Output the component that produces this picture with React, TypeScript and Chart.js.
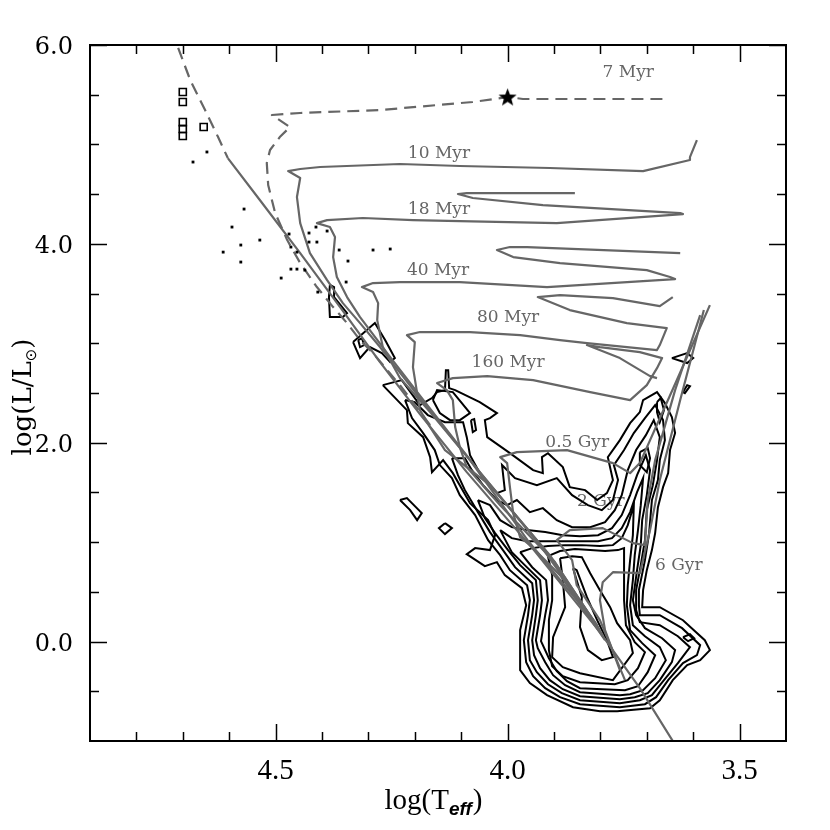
import React, { useEffect, useRef } from "react";
import { Chart, registerables } from "chart.js";
Chart.register(...registerables);

type P = [number, number];

// ---- axes ----
const X_MIN = 3.4, X_MAX = 4.9, Y_MIN = -1, Y_MAX = 6;
const xMajorTicks = [4.5, 4.0, 3.5];
const xMinorTicks = [4.8, 4.7, 4.6, 4.4, 4.3, 4.2, 4.1, 3.9, 3.8, 3.7, 3.6];
const yMajorTicks = [6.0, 4.0, 2.0, 0.0];
const yMinorTicks = [5.5, 5.0, 4.5, 3.5, 3.0, 2.5, 1.5, 1.0, 0.5, -0.5];

// ---- isochrone labels ----
const isoLabelText = ["7 Myr", "10 Myr", "18 Myr", "40 Myr", "80 Myr", "160 Myr", "0.5 Gyr", "2 Gyr", "6 Gyr"];
const isoLabelT = [3.740, 4.148, 4.148, 4.150, 3.999, 3.999, 3.850, 3.799, 3.631];
const isoLabelL = [5.718, 4.913, 4.340, 3.736, 3.254, 2.801, 2.006, 1.412, 0.769];

// ---- gray tracks / isochrones (logT, logL) ----
const upperDashed: P[] = [[4.710, 5.970], [4.684, 5.648], [4.652, 5.346], [4.624, 5.074], [4.603, 4.863]];
const zams: P[] = [[4.603, 4.863], [4.534, 4.441], [4.447, 3.907], [4.361, 3.364], [4.275, 2.811], [4.189, 2.288], [4.088, 1.704], [3.945, 0.930], [3.801, 0.095], [3.715, -0.469], [3.640, -1.03]];
const iso7Myr: P[] = [[4.167, 2.177], [4.232, 2.579], [4.292, 2.911], [4.318, 3.032], [4.346, 3.203], [4.376, 3.364], [4.411, 3.566], [4.447, 3.807], [4.475, 4.038], [4.501, 4.310], [4.516, 4.592], [4.519, 4.813], [4.512, 4.944], [4.491, 5.074], [4.469, 5.175], [4.508, 5.296], [4.447, 5.316], [4.275, 5.346], [4.075, 5.427], [3.999, 5.477], [3.967, 5.457], [3.801, 5.457], [3.665, 5.457], [3.659, 5.437]];
const iso10Myr: P[] = [[3.812, 0.195], [3.957, 1.020], [4.081, 1.825], [4.189, 2.449], [4.275, 2.962], [4.318, 3.203], [4.355, 3.404], [4.389, 3.636], [4.426, 3.907], [4.447, 4.209], [4.454, 4.471], [4.447, 4.662], [4.473, 4.732], [4.447, 4.753], [4.404, 4.773], [4.232, 4.803], [4.103, 4.783], [3.909, 4.763], [3.708, 4.732], [3.607, 4.843], [3.607, 4.873], [3.592, 5.044]];
const iso18Myr: P[] = [[3.807, 0.165], [3.930, 0.970], [4.060, 1.704], [4.178, 2.408], [4.253, 2.861], [4.318, 3.264], [4.346, 3.465], [4.368, 3.666], [4.376, 3.867], [4.372, 4.068], [4.383, 4.169], [4.411, 4.209], [4.389, 4.239], [4.312, 4.260], [4.204, 4.239], [4.103, 4.229], [3.894, 4.209], [3.622, 4.300], [3.628, 4.310], [3.924, 4.390], [4.075, 4.461], [4.107, 4.501], [4.088, 4.511], [3.855, 4.511]];
const iso40Myr: P[] = [[3.805, 0.135], [3.919, 0.920], [4.049, 1.644], [4.167, 2.308], [4.232, 2.650], [4.269, 2.962], [4.281, 3.233], [4.279, 3.404], [4.290, 3.515], [4.314, 3.565], [4.290, 3.606], [4.232, 3.616], [4.103, 3.616], [3.915, 3.565], [3.639, 3.646], [3.650, 3.666], [3.700, 3.736], [3.887, 3.807], [3.988, 3.867], [4.023, 3.938], [3.995, 3.968], [3.958, 3.968], [3.628, 3.907]];
const iso80Myr: P[] = [[3.801, 0.115], [3.909, 0.869], [4.038, 1.573], [4.135, 1.926], [4.167, 2.157], [4.189, 2.328], [4.195, 2.499], [4.204, 2.760], [4.200, 3.012], [4.217, 3.082], [4.189, 3.113], [4.081, 3.113], [3.973, 3.082], [3.887, 3.032], [3.829, 3.002], [3.678, 2.932], [3.672, 2.982], [3.657, 3.153], [3.743, 3.203], [3.866, 3.334], [3.935, 3.465], [3.887, 3.485], [3.773, 3.455], [3.672, 3.374], [3.644, 3.465]];
const iso160Myr: P[] = [[3.795, 0.064], [3.898, 0.799], [4.016, 1.372], [4.088, 1.755], [4.103, 1.956], [4.113, 2.157], [4.118, 2.429], [4.131, 2.529], [4.152, 2.600], [4.118, 2.650], [4.044, 2.670], [3.945, 2.630], [3.822, 2.509], [3.736, 2.429], [3.700, 2.579], [3.678, 2.750], [3.667, 2.851], [3.715, 2.911], [3.801, 2.962], [3.829, 2.982], [3.758, 2.851], [3.693, 2.670], [3.678, 2.650]];
const iso05Gyr: P[] = [[3.790, 0.014], [3.887, 0.668], [3.952, 0.970], [3.973, 1.050], [3.988, 1.292], [3.995, 1.553], [4.001, 1.795], [4.016, 1.855], [3.980, 1.905], [3.872, 1.926], [3.773, 1.795], [3.736, 1.694], [3.715, 1.795], [3.639, 2.590], [3.564, 3.384]];
const iso2Gyr: P[] = [[3.747, -0.388], [3.801, 0.215], [3.851, 0.567], [3.861, 0.819], [3.894, 1.020], [3.866, 1.121], [3.795, 1.141], [3.730, 0.990], [3.704, 0.970], [3.698, 1.423], [3.682, 1.825], [3.639, 2.529], [3.585, 3.284]];
const iso6Gyr: P[] = [[3.758, -0.288], [3.790, 0.115], [3.801, 0.417], [3.795, 0.597], [3.773, 0.698], [3.715, 0.688], [3.693, 1.121], [3.672, 1.624], [3.628, 2.429], [3.577, 3.334]];

// ---- density contours (black) ----
const contour1: P[] = [[4.269, 2.579], [4.228, 2.630], [4.189, 2.378], [4.163, 2.449], [4.152, 2.509], [4.135, 2.529], [4.133, 2.730], [4.128, 2.730], [4.126, 2.549], [4.113, 2.529], [4.060, 2.408], [4.023, 2.298], [4.038, 2.248], [4.049, 2.227], [4.044, 2.056], [3.995, 1.895], [3.945, 1.724], [3.924, 1.694], [3.926, 1.855], [3.913, 1.895], [3.881, 1.755], [3.866, 1.553], [3.833, 1.523], [3.807, 1.423], [3.786, 1.493], [3.773, 1.624], [3.784, 1.855], [3.758, 2.026], [3.736, 2.197], [3.715, 2.308], [3.708, 2.429], [3.678, 2.509], [3.661, 2.398], [3.646, 2.258], [3.639, 2.097], [3.650, 1.926], [3.654, 1.694], [3.665, 1.553], [3.676, 1.352], [3.682, 1.091], [3.689, 0.920], [3.700, 0.718], [3.708, 0.517], [3.710, 0.346], [3.672, 0.346], [3.622, 0.215], [3.575, 0.014], [3.564, -0.086], [3.585, -0.187], [3.613, -0.237], [3.644, -0.388], [3.672, -0.590], [3.693, -0.670], [3.764, -0.700], [3.801, -0.700], [3.859, -0.660], [3.915, -0.539], [3.952, -0.418], [3.973, -0.288], [3.973, 0.115], [3.960, 0.366], [3.969, 0.537], [4.006, 0.668], [4.023, 0.799], [4.049, 0.758], [4.088, 0.879], [4.070, 0.940], [4.038, 0.920], [4.027, 1.070], [4.042, 1.221], [4.081, 1.392], [4.118, 1.694], [4.139, 1.825], [4.163, 1.704], [4.167, 1.855], [4.182, 2.056], [4.215, 2.197], [4.217, 2.328], [4.269, 2.579]];
const contour2: P[] = [[4.221, 2.429], [4.200, 2.408], [4.172, 2.278], [4.135, 2.207], [4.096, 2.207], [4.088, 2.056], [4.081, 1.875], [4.055, 1.654], [4.023, 1.493], [4.006, 1.523], [4.012, 1.775], [3.984, 1.644], [3.937, 1.573], [3.894, 1.644], [3.861, 1.473], [3.827, 1.372], [3.797, 1.322], [3.773, 1.423], [3.762, 1.624], [3.771, 1.775], [3.749, 1.926], [3.728, 2.097], [3.704, 2.248], [3.682, 2.378], [3.665, 2.227], [3.661, 2.026], [3.672, 1.825], [3.676, 1.624], [3.689, 1.423], [3.695, 1.091], [3.704, 0.819], [3.717, 0.517], [3.717, 0.366], [3.715, 0.265], [3.672, 0.265], [3.624, 0.135], [3.585, -0.036], [3.592, -0.137], [3.622, -0.217], [3.654, -0.388], [3.680, -0.559], [3.704, -0.630], [3.758, -0.660], [3.844, -0.630], [3.887, -0.559], [3.919, -0.469], [3.945, -0.348], [3.960, -0.207], [3.965, 0.014], [3.956, 0.266], [3.952, 0.417], [3.958, 0.567], [3.995, 0.718], [4.016, 0.869], [4.042, 1.020], [4.070, 1.272], [4.103, 1.473], [4.120, 1.644], [4.146, 1.775], [4.157, 1.926], [4.182, 2.097], [4.206, 2.248], [4.221, 2.429]];
const contour3: P[] = [[4.120, 1.845], [4.092, 1.845], [4.077, 1.724], [4.053, 1.573], [4.023, 1.423], [4.001, 1.372], [3.980, 1.423], [3.952, 1.302], [3.924, 1.342], [3.894, 1.221], [3.861, 1.151], [3.822, 1.151], [3.790, 1.201], [3.769, 1.322], [3.754, 1.473], [3.741, 1.724], [3.723, 1.926], [3.702, 2.076], [3.685, 2.227], [3.672, 2.056], [3.678, 1.825], [3.687, 1.573], [3.700, 1.322], [3.704, 1.020], [3.713, 0.769], [3.723, 0.517], [3.723, 0.316], [3.715, 0.195], [3.672, 0.165], [3.633, 0.054], [3.607, -0.056], [3.633, -0.217], [3.663, -0.388], [3.689, -0.539], [3.715, -0.590], [3.758, -0.620], [3.844, -0.590], [3.883, -0.519], [3.913, -0.429], [3.937, -0.308], [3.952, -0.187], [3.956, 0.014], [3.947, 0.266], [3.943, 0.417], [3.947, 0.587], [3.984, 0.748], [4.010, 0.920], [4.038, 1.101], [4.064, 1.302], [4.092, 1.523], [4.107, 1.674], [4.120, 1.845]];
const contour4: P[] = [[4.064, 1.423], [4.038, 1.372], [4.016, 1.221], [3.991, 1.151], [3.958, 1.121], [3.919, 1.101], [3.881, 1.070], [3.844, 1.060], [3.805, 1.070], [3.775, 1.141], [3.754, 1.272], [3.736, 1.473], [3.721, 1.674], [3.702, 1.875], [3.693, 1.724], [3.700, 1.473], [3.710, 1.221], [3.713, 0.970], [3.721, 0.718], [3.730, 0.417], [3.723, 0.266], [3.704, 0.135], [3.667, 0.034], [3.639, -0.086], [3.646, -0.207], [3.672, -0.388], [3.698, -0.519], [3.726, -0.559], [3.758, -0.579], [3.844, -0.549], [3.881, -0.479], [3.909, -0.388], [3.930, -0.267], [3.943, -0.137], [3.947, 0.014], [3.939, 0.266], [3.935, 0.417], [3.939, 0.618], [3.973, 0.769], [3.999, 0.920], [4.027, 1.091], [4.049, 1.242], [4.064, 1.423]];
const contour5: P[] = [[4.016, 1.121], [3.991, 1.040], [3.958, 1.010], [3.919, 1.010], [3.881, 1.010], [3.844, 1.010], [3.805, 1.010], [3.775, 1.040], [3.754, 1.141], [3.736, 1.302], [3.721, 1.503], [3.708, 1.644], [3.713, 1.372], [3.719, 1.121], [3.726, 0.869], [3.730, 0.618], [3.736, 0.366], [3.730, 0.165], [3.704, 0.054], [3.672, -0.056], [3.659, -0.187], [3.682, -0.368], [3.708, -0.489], [3.736, -0.529], [3.758, -0.539], [3.844, -0.509], [3.876, -0.439], [3.902, -0.338], [3.919, -0.207], [3.935, -0.066], [3.939, 0.014], [3.930, 0.266], [3.926, 0.417], [3.930, 0.618], [3.963, 0.769], [3.991, 0.899], [4.016, 1.121]];
const contour6: P[] = [[3.973, 0.899], [3.947, 0.940], [3.913, 0.960], [3.876, 0.970], [3.840, 0.970], [3.801, 0.960], [3.773, 0.970], [3.754, 1.040], [3.741, 1.171], [3.728, 1.372], [3.730, 1.070], [3.736, 0.819], [3.741, 0.567], [3.743, 0.366], [3.736, 0.115], [3.710, -0.016], [3.682, -0.137], [3.698, -0.308], [3.719, -0.449], [3.747, -0.489], [3.844, -0.469], [3.872, -0.398], [3.894, -0.298], [3.911, -0.167], [3.928, 0.004], [3.919, 0.266], [3.913, 0.417], [3.917, 0.618], [3.947, 0.748], [3.973, 0.899]];
const contour7: P[] = [[3.913, 0.859], [3.887, 0.910], [3.855, 0.930], [3.822, 0.920], [3.790, 0.910], [3.762, 0.920], [3.749, 0.940], [3.749, 0.668], [3.749, 0.417], [3.745, 0.165], [3.726, -0.006], [3.704, -0.106], [3.719, -0.267], [3.741, -0.388], [3.769, -0.429], [3.844, -0.408], [3.881, -0.348], [3.904, -0.247], [3.911, -0.086], [3.911, 0.215], [3.904, 0.417], [3.904, 0.668], [3.913, 0.859]];
const contour8: P[] = [[3.887, 0.839], [3.861, 0.859], [3.840, 0.849], [3.822, 0.688], [3.801, 0.517], [3.779, 0.346], [3.764, 0.185], [3.736, 0.014], [3.730, -0.116], [3.773, -0.388], [3.844, -0.318], [3.881, -0.257], [3.904, -0.157], [3.902, 0.044], [3.876, 0.346], [3.881, 0.618], [3.887, 0.839]];
const contour9: P[] = [[3.859, 0.738], [3.840, 0.446], [3.844, 0.145], [3.827, -0.086], [3.797, -0.187], [3.773, -0.157], [3.786, 0.014], [3.807, 0.215], [3.829, 0.446], [3.851, 0.718], [3.859, 0.738]];
const islandBox: P[] = [[4.161, 2.429], [4.152, 2.529], [4.118, 2.509], [4.081, 2.298], [4.103, 2.227], [4.124, 2.227], [4.146, 2.298], [4.161, 2.429]];
const islandTick: P[] = [[4.079, 2.227], [4.072, 2.237], [4.068, 2.127], [4.075, 2.107], [4.079, 2.227]];
const islandA: P[] = [[4.383, 3.586], [4.374, 3.566], [4.374, 3.465], [4.346, 3.304], [4.355, 3.264], [4.383, 3.264], [4.385, 3.465], [4.383, 3.586]];
const islandB: P[] = [[4.333, 3.012], [4.286, 3.203], [4.264, 3.032], [4.243, 2.851], [4.253, 2.811], [4.271, 2.901], [4.297, 2.962], [4.318, 2.851], [4.333, 3.012]];
const islandBInner: P[] = [[4.322, 3.032], [4.314, 3.052], [4.309, 2.982], [4.318, 2.962], [4.322, 3.032]];
const islandC: P[] = [[4.232, 1.423], [4.217, 1.443], [4.185, 1.292], [4.195, 1.221], [4.210, 1.322], [4.232, 1.423]];
const islandD: P[] = [[4.135, 1.191], [4.120, 1.141], [4.135, 1.081], [4.148, 1.141], [4.135, 1.191]];
const islandE: P[] = [[3.646, 2.851], [3.613, 2.901], [3.600, 2.851], [3.613, 2.801], [3.646, 2.851]];
const islandF: P[] = [[3.622, 2.509], [3.613, 2.579], [3.607, 2.569], [3.618, 2.499], [3.622, 2.509]];
const islandG: P[] = [[3.715, 1.905], [3.698, 1.946], [3.693, 1.845], [3.700, 1.704], [3.715, 1.775], [3.715, 1.905]];
const islandH: P[] = [[3.678, 2.408], [3.670, 2.449], [3.663, 2.328], [3.672, 2.207], [3.678, 2.308], [3.678, 2.408]];
const islandI: P[] = [[3.622, 0.044], [3.607, 0.074], [3.598, 0.034], [3.611, 0.004], [3.622, 0.044]];

// ---- stars ----
const squareT = [4.700, 4.700, 4.700, 4.700, 4.700, 4.655];
const squareL = [5.527, 5.427, 5.225, 5.155, 5.085, 5.175];
const dotT = [4.648, 4.678, 4.568, 4.594, 4.534, 4.575, 4.613, 4.575, 4.488, 4.471, 4.428, 4.413, 4.389, 4.428, 4.411, 4.467, 4.454, 4.467, 4.454, 4.437, 4.363, 4.344, 4.290, 4.253, 4.348, 4.409];
const dotL = [4.924, 4.823, 4.350, 4.169, 4.038, 3.988, 3.917, 3.817, 3.656, 4.099, 4.109, 4.169, 4.129, 4.018, 4.018, 3.968, 3.917, 3.746, 3.746, 3.736, 3.938, 3.827, 3.938, 3.948, 3.616, 3.515];
const starT = [4.0];
const starL = [5.477];

const GRAY = "#666666";

const xy = (a: P[]) => a.map(([x, y]) => ({ x, y }));
const zip = (xs: number[], ys: number[]) => xs.map((x, i) => ({ x, y: ys[i] }));

function makeStar(size: number) {
  const c = document.createElement("canvas");
  c.width = size;
  c.height = size;
  const g = c.getContext("2d")!;
  const cx = size / 2, cy = size / 2 + 0.8, R = size / 2, r = R * 0.42;
  g.beginPath();
  for (let i = 0; i < 10; i++) {
    const ang = -Math.PI / 2 + (i * Math.PI) / 5;
    const rad = i % 2 === 0 ? R : r;
    g.lineTo(cx + rad * Math.cos(ang), cy + rad * Math.sin(ang));
  }
  g.closePath();
  g.fillStyle = "#000";
  g.fill();
  return c;
}

const framePlugin = {
  id: "hrFrame",
  beforeDatasetsDraw(chart: any) {
    const { ctx } = chart;
    const xs = chart.scales.x, ys = chart.scales.y;
    ctx.save();
    ctx.fillStyle = GRAY;
    ctx.font = '17px "DejaVu Serif"';
    ctx.textAlign = "center";
    ctx.textBaseline = "middle";
    isoLabelText.forEach((t, i) => {
      ctx.fillText(t, xs.getPixelForValue(isoLabelT[i]), ys.getPixelForValue(isoLabelL[i]));
    });
    ctx.restore();
  },
  afterDraw(chart: any) {
    const { ctx, chartArea: a } = chart;
    const xs = chart.scales.x, ys = chart.scales.y;
    ctx.save();
    ctx.strokeStyle = "#000";
    ctx.lineWidth = 1.5;
    const xt = (v: number, len: number) => {
      const p = Math.round(xs.getPixelForValue(v)) + 0.5;
      ctx.beginPath();
      ctx.moveTo(p, a.bottom); ctx.lineTo(p, a.bottom - len);
      ctx.moveTo(p, a.top); ctx.lineTo(p, a.top + len);
      ctx.stroke();
    };
    const yt = (v: number, len: number) => {
      const p = Math.round(ys.getPixelForValue(v)) + 0.5;
      ctx.beginPath();
      ctx.moveTo(a.left, p); ctx.lineTo(a.left + len, p);
      ctx.moveTo(a.right, p); ctx.lineTo(a.right - len, p);
      ctx.stroke();
    };
    xMajorTicks.forEach((v) => xt(v, 17));
    xMinorTicks.forEach((v) => xt(v, 9));
    yMajorTicks.forEach((v) => yt(v, 17));
    yMinorTicks.forEach((v) => yt(v, 9));
    ctx.lineWidth = 2;
    ctx.strokeRect(a.left, a.top, a.right - a.left, a.bottom - a.top);

    ctx.fillStyle = "#000";
    ctx.font = '29px "Liberation Serif"';
    ctx.textAlign = "center";
    ctx.textBaseline = "alphabetic";
    xMajorTicks.forEach((v) => ctx.fillText(v.toFixed(1), xs.getPixelForValue(v), 779));

    ctx.font = '24px "DejaVu Serif"';
    ctx.textAlign = "right";
    yMajorTicks.forEach((v) => ctx.fillText(v.toFixed(1), 73, ys.getPixelForValue(v) + 9));

    // x title: log(T_eff)
    ctx.textAlign = "left";
    const mainF = '29px "Liberation Serif"';
    const subF = 'italic bold 19px "Liberation Sans"';
    ctx.font = mainF;
    const w1 = ctx.measureText("log(T").width;
    const w3 = ctx.measureText(")").width;
    ctx.font = subF;
    const w2 = ctx.measureText("eff").width;
    let x0 = 433 - (w1 + w2 + w3) / 2;
    ctx.font = mainF;
    ctx.fillText("log(T", x0, 809);
    ctx.font = subF;
    ctx.fillText("eff", x0 + w1, 815);
    ctx.font = mainF;
    ctx.fillText(")", x0 + w1 + w2 + 1, 809);

    // y title: log(L/L_sun)
    ctx.save();
    ctx.translate(31, 397);
    ctx.rotate(-Math.PI / 2);
    const yMain = '26px "DejaVu Serif"';
    const ySub = '15px "DejaVu Sans"';
    ctx.font = yMain;
    const a1 = ctx.measureText("log(L/L").width;
    const a3 = ctx.measureText(")").width;
    ctx.font = ySub;
    const a2 = ctx.measureText("\u2299").width;
    const s0 = -(a1 + a2 + a3) / 2;
    ctx.font = yMain;
    ctx.fillText("log(L/L", s0, 0);
    ctx.font = ySub;
    ctx.fillText("\u2299", s0 + a1, 5);
    ctx.font = yMain;
    ctx.fillText(")", s0 + a1 + a2, 0);
    ctx.restore();
    ctx.restore();
  },
};

export default function App() {
  const ref = useRef<HTMLCanvasElement | null>(null);
  useEffect(() => {
    if (!ref.current) return;
    const star = makeStar(19);
    const gray = (d: P[], dash?: number[]) => ({
      data: xy(d),
      showLine: true,
      borderColor: GRAY,
      borderWidth: 2.2,
      borderDash: dash || [],
      pointRadius: 0,
      tension: 0,
      fill: false,
      borderJoinStyle: "round" as const,
      order: 1,
    });
    const black = (d: P[]) => ({
      data: xy(d),
      showLine: true,
      borderColor: "#000",
      borderWidth: 2,
      pointRadius: 0,
      tension: 0,
      fill: false,
      borderJoinStyle: "miter" as const,
      order: 2,
    });
    const contours = [contour1, contour2, contour3, contour4, contour5, contour6, contour7, contour8, contour9,
      islandBox, islandTick, islandA, islandB, islandBInner, islandC, islandD, islandE, islandF, islandG, islandH, islandI];
    const chart = new Chart(ref.current, {
      type: "scatter",
      data: {
        datasets: [
          {
            data: zip(starT, starL),
            pointStyle: star as any,
            pointRadius: 9,
            showLine: false,
            order: 0,
          } as any,
          {
            data: zip(squareT, squareL),
            pointStyle: "rect",
            pointRadius: 5,
            borderColor: "#000",
            borderWidth: 1.6,
            backgroundColor: "rgba(0,0,0,0)",
            showLine: false,
            order: 0,
          },
          {
            data: zip(dotT, dotL),
            pointStyle: "rect",
            pointRadius: 2,
            borderWidth: 0,
            backgroundColor: "#000",
            showLine: false,
            order: 0,
          },
          gray(upperDashed, [12, 7]),
          gray(iso7Myr, [12, 7]),
          gray(zams),
          gray(iso10Myr),
          gray(iso18Myr),
          gray(iso40Myr),
          gray(iso80Myr),
          gray(iso160Myr),
          gray(iso05Gyr),
          gray(iso2Gyr),
          gray(iso6Gyr),
          ...contours.map(black),
        ] as any,
      },
      options: {
        animation: false,
        responsive: false,
        devicePixelRatio: 1,
        events: [],
        layout: { padding: { left: 90, top: 45, right: 44, bottom: 89 } },
        scales: {
          x: { type: "linear", min: X_MIN, max: X_MAX, reverse: true, display: false },
          y: { type: "linear", min: Y_MIN, max: Y_MAX, display: false },
        },
        plugins: { legend: { display: false }, tooltip: { enabled: false } },
      },
      plugins: [framePlugin],
    });
    return () => chart.destroy();
  }, []);
  return (
    <div style={{ position: "absolute", left: 0, top: 0, width: 830, height: 830, background: "#fff" }}>
      <canvas ref={ref} width={830} height={830} style={{ display: "block" }} />
    </div>
  );
}
